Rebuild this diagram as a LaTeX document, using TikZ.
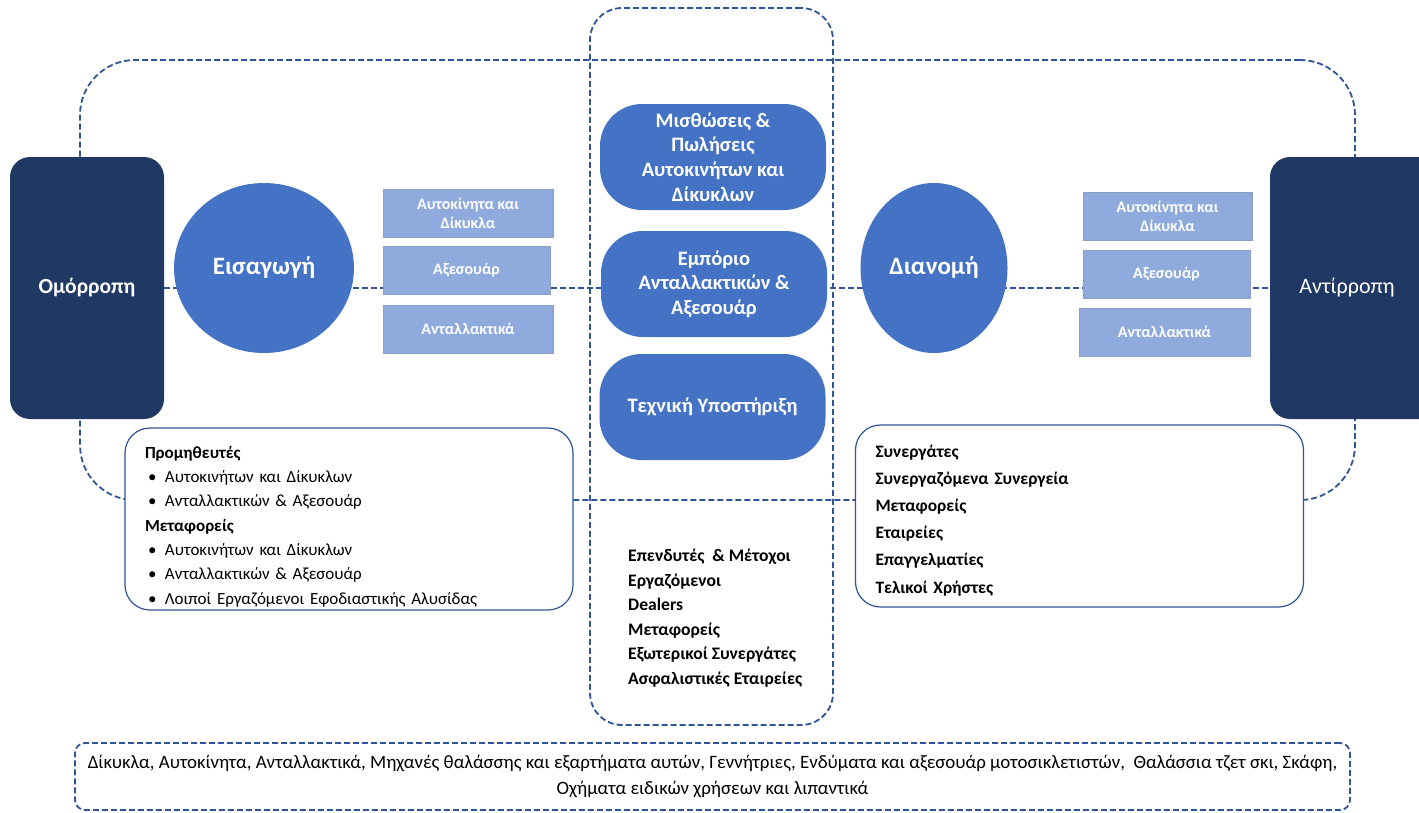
\documentclass[tikz,border=0pt]{standalone}
\usepackage{fontspec}
\setmainfont{Carlito}
\usetikzlibrary{positioning, backgrounds, shapes.geometric}

\definecolor{navy}{HTML}{203864}
\definecolor{midblue}{HTML}{4472C4}
\definecolor{lightblue}{HTML}{8FAADC}
\definecolor{lineblue}{HTML}{2F5597}

\newcommand{\itm}{\hspace*{3pt}\makebox[17pt][l]{\textbullet}}

\begin{document}
\begin{tikzpicture}[x=1pt, y=-1pt,
    flow/.style={draw=lineblue, line width=1.8pt, dash pattern=on 6pt off 3pt},
    sidebox/.style={fill=navy, rounded corners=20pt, minimum width=154pt,
        minimum height=262pt, inner sep=0pt, text=white},
    phase/.style={ellipse, fill=midblue, inner sep=0pt, text=white,
        minimum height=170pt, font=\bfseries\fontsize{25}{29}\selectfont},
    itembox/.style={fill=lightblue, draw=lightblue!75!gray, line width=0.6pt,
        minimum height=48pt, inner sep=0pt, align=center, text=white,
        font=\bfseries\fontsize{16}{19}\selectfont},
    service/.style={fill=midblue, rounded corners=42pt, minimum width=226pt,
        minimum height=106pt, inner sep=0pt, align=center, text=white,
        font=\bfseries\fontsize{20.5}{24.6}\selectfont},
    group/.style={draw=lineblue, line width=1.2pt, fill=white, rounded corners=25pt,
        minimum height=182pt, inner xsep=20pt, inner ysep=0pt, align=left, text width=408pt},
  ]
    \useasboundingbox (0,0) rectangle (1419,812);
    \clip (0,0) rectangle (1419,812);

    % sides
    \node [sidebox, font=\bfseries\fontsize{21.5}{25}\selectfont] (omo) at (87,288) {Ομόρροπη};
    \node [sidebox, minimum width=170pt, font=\fontsize{22}{26}\selectfont] (anti) at (1355,288) {Αντίρροπη\hspace*{16pt}};

    % import / distribution
    \node [phase, minimum width=180pt] (import) at (264,268) {Εισαγωγή};
    \node [phase, minimum width=147pt] (distrib) at (934,268) {Διανομή};

    \node [itembox, minimum width=170pt] (icars) at (468,213) {Αυτοκίνητα και\\Δίκυκλα};
    \node [itembox, minimum width=167pt] (iacc) at (466.5,270) {Αξεσουάρ};
    \node [itembox, minimum width=170pt] (iparts) at (468,329) {Ανταλλακτικά};

    \node [itembox, minimum width=169pt] (dcars) at (1167.5,216.5) {Αυτοκίνητα και\\Δίκυκλα};
    \node [itembox, minimum width=167pt] (dacc) at (1166.5,274.5) {Αξεσουάρ};
    \node [itembox, minimum width=171pt] (dparts) at (1164.5,332) {Ανταλλακτικά};

    % core services
    \node [service] (lease) at (713,157) {Μισθώσεις \&\\Πωλήσεις\\Αυτοκινήτων και\\Δίκυκλων};
    \node [service] (trade) at (714,284) {Εμπόριο\\Ανταλλακτικών \&\\Αξεσουάρ};
    \node [service] (support) at (712.5,407) {Τεχνική Υποστήριξη};

    % stakeholders
    \node [group, font=\fontsize{17}{24.3}\selectfont] (suppliers) at (349,519) {%
        \rule{0pt}{27pt}\textbf{Προμηθευτές}\\
        \itm Αυτοκινήτων και Δίκυκλων\\
        \itm Ανταλλακτικών \& Αξεσουάρ\\
        \textbf{Μεταφορείς}\\
        \itm Αυτοκινήτων και Δίκυκλων\\
        \itm Ανταλλακτικών \& Αξεσουάρ\\
        \itm Λοιποί Εργαζόμενοι Εφοδιαστικής Αλυσίδας};
    \node [group, font=\bfseries\fontsize{17.4}{27.2}\selectfont] (partners) at (1079.5,516) {%
        \rule{0pt}{21pt}Συνεργάτες\\
        Συνεργαζόμενα Συνεργεία\\
        Μεταφορείς\\
        Εταιρείες\\
        Επαγγελματίες\\
        Τελικοί Χρήστες};
    \node [anchor=west, align=left, inner sep=0pt, font=\bfseries\fontsize{17.6}{24.6}\selectfont]
        (people) at (628,618) {%
        Επενδυτές \ \& Μέτοχοι\\
        Εργαζόμενοι\\
        Dealers\\
        Μεταφορείς\\
        Εξωτερικοί Συνεργάτες\\
        Ασφαλιστικές Εταιρείες};

    % product range
    \node [flow, rounded corners=10pt, minimum width=1275pt, minimum height=67pt,
        align=center, font=\fontsize{18.9}{26}\selectfont] (range) at (712.5,776.5)
        {Δίκυκλα, Αυτοκίνητα, Ανταλλακτικά, Μηχανές θαλάσσης και εξαρτήματα αυτών, Γεννήτριες, Ενδύματα και αξεσουάρ μοτοσικλετιστών, \ Θαλάσσια τζετ σκι, Σκάφη,\\
        Οχήματα ειδικών χρήσεων και λιπαντικά};

    \begin{scope}[on background layer]
        \node [flow, rounded corners=55pt, minimum width=1275pt, minimum height=440pt] (loop) at (717.5,280) {};
        \node [flow, rounded corners=32pt, minimum width=243pt, minimum height=717pt] (core) at (711.5,366.5) {};
        \draw [flow] (omo) -- (anti);
    \end{scope}
\end{tikzpicture}
\end{document}
